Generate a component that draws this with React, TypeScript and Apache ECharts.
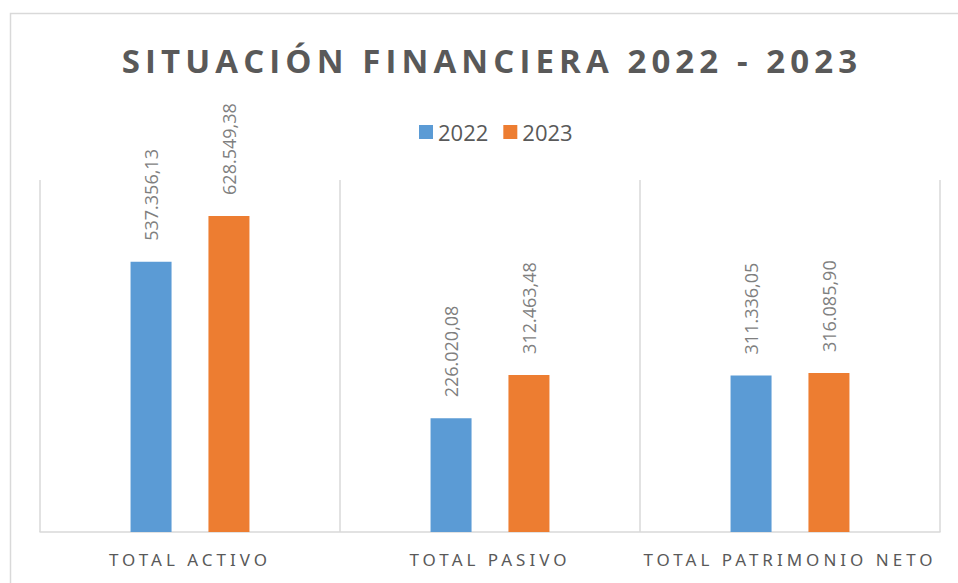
import React, { useEffect, useRef } from "react";
import * as echarts from "echarts";

const categories = ["TOTAL ACTIVO", "TOTAL PASIVO", "TOTAL PATRIMONIO NETO"];
const values2022 = [537356.13, 226020.08, 311336.05];
const values2023 = [628549.38, 312463.48, 316085.9];
const seriesNames = ["2022", "2023"];
const chartTitle = "SITUACIÓN FINANCIERA 2022 - 2023";

function fmt(v: number): string {
  const [ip, dp] = v.toFixed(2).split(".");
  const withDots = ip.replace(/\B(?=(\d{3})+(?!\d))/g, ".");
  return withDots + "," + dp;
}

export default function App() {
  const ref = useRef<HTMLDivElement>(null);
  useEffect(() => {
    if (!ref.current) return;
    const chart = echarts.init(ref.current, undefined, { renderer: "svg" });
    const label = {
      show: true,
      position: "top" as const,
      rotate: 90,
      align: "left" as const,
      verticalAlign: "middle" as const,
      distance: 21,
      color: "#7f7f7f",
      fontSize: 18,
      fontFamily: "Open Sans",
      formatter: (p: any) => fmt(p.value),
    };
    chart.setOption({
      animation: false,
      backgroundColor: "#ffffff",
      title: {
        text: chartTitle,
        left: 487,
        textAlign: "center",
        top: 39,
        textStyle: {
          color: "#595959",
          fontSize: 33,
          fontWeight: "bold",
          fontFamily: "Open Sans",
        },
      },
      legend: {
        data: seriesNames,
        left: 419,
        top: 121,
        padding: 0,
        itemWidth: 14,
        itemHeight: 14,
        itemGap: 15,
        icon: "rect",
        textStyle: { color: "#595959", fontSize: 22, fontFamily: "Open Sans" },
      },
      graphic: [
        {
          type: "rect",
          z: -10,
          silent: true,
          shape: { x: 10.5, y: 13.5, width: 1000, height: 1000 },
          style: { fill: "none", stroke: "#d9d9d9", lineWidth: 1.5 },
        },
      ],
      grid: { left: 40, right: 18, top: 180, bottom: 51, containLabel: false },
      xAxis: {
        type: "category",
        data: categories,
        axisLine: { show: true, lineStyle: { color: "#d9d9d9", width: 1.5 } },
        axisTick: { show: false },
        splitLine: { show: true, lineStyle: { color: "#d9d9d9", width: 1.5 } },
        axisLabel: {
          color: "#595959",
          fontSize: 17,
          fontFamily: "Noto Sans",
          margin: 19,
          interval: 0,
        },
      },
      yAxis: {
        type: "value",
        min: 0,
        max: 700000,
        show: false,
        splitLine: { show: false },
      },
      series: [
        {
          name: seriesNames[0],
          type: "bar",
          data: values2022,
          barWidth: 41,
          barGap: "90%",
          itemStyle: { color: "#5b9bd5" },
          label,
        },
        {
          name: seriesNames[1],
          type: "bar",
          data: values2023,
          barWidth: 41,
          barGap: "90%",
          itemStyle: { color: "#ed7d31" },
          label,
        },
      ],
    });
    return () => chart.dispose();
  }, []);
  return (
    <>
      <style>{`
        .chartbox text[style*="bold"] { letter-spacing: 5.1px; }
        .chartbox text[style*="Noto Sans"] { letter-spacing: 4px; }
      `}</style>
      <div
        ref={ref}
        className="chartbox"
        style={{ position: "absolute", left: 0, top: 0, width: 958, height: 583 }}
      />
    </>
  );
}
